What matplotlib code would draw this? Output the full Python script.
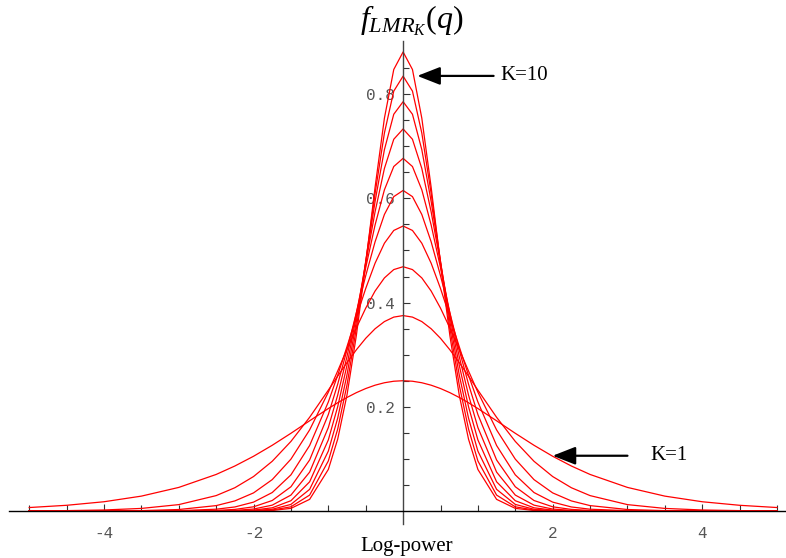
import numpy as np
import matplotlib
matplotlib.use('Agg')
from matplotlib import pyplot as plt
from matplotlib.ticker import FixedLocator

plt.rcParams['mathtext.fontset'] = 'custom'
plt.rcParams['mathtext.rm'] = 'Liberation Serif'
plt.rcParams['mathtext.it'] = 'Liberation Serif:italic'

# log-power values, x >= 0 half (curves are symmetric about 0)
xs_half = [0, 0.125, 0.25, 0.375, 0.5, 0.625, 0.75, 0.875, 1, 1.25, 1.5, 1.75,
           2, 2.25, 2.5, 3, 3.5, 4, 4.5, 5]

k1 = [.2500, .2490, .2461, .2414, .2350, .2271, .2179, .2077, .1966, .1731, .1491, .1261,
      .1050, .0863, .0701, .0452, .0285, .0177, .0109, .0066]
k2 = [.3750, .3721, .3635, .3497, .3314, .3094, .2849, .2587, .2319, .1798, .1335, .0954,
      .0661, .0446, .0295, .0122, .0049, .0019, .0007, .0003]
k3 = [.4688, .4633, .4473, .4221, .3893, .3513, .3104, .2686, .2280, .1556, .0995, .0602,
      .0347, .0193, .0103, .0028, .0007, .0002, 0, 0]
k4 = [.5469, .5384, .5139, .4755, .4270, .3724, .3156, .2603, .2092, .1257, .0693, .0354,
      .0170, .0077, .0034, .0006, .0001, 0, 0, 0]
k5 = [.6152, .6033, .5691, .5166, .4515, .3805, .3094, .2432, .1851, .0979, .0465, .0201,
      .0080, .0030, .0011, .0001, 0, 0, 0, 0]
k6 = [.6768, .6611, .6164, .5488, .4669, .3802, .2967, .2223, .1601, .0746, .0305, .0112,
      .0037, .0011, .0003, 0, 0, 0, 0, 0]
k7 = [.7332, .7134, .6574, .5741, .4755, .3742, .2801, .2000, .1364, .0560, .0197, .0061,
      .0017, .0004, .0001, 0, 0, 0, 0, 0]
k8 = [.7855, .7614, .6935, .5939, .4789, .3641, .2616, .1780, .1149, .0415, .0126, .0033,
      .0008, .0001, 0, 0, 0, 0, 0, 0]
k9 = [.8346, .8058, .7254, .6093, .4783, .3514, .2422, .1571, .0960, .0305, .0080, .0018,
      .0003, 0, 0, 0, 0, 0, 0, 0]
k10 = [.8810, .8473, .7539, .6211, .4746, .3370, .2229, .1377, .0797, .0223, .0050, .0009,
       .0001, 0, 0, 0, 0, 0, 0, 0]

curves = [k1, k2, k3, k4, k5, k6, k7, k8, k9, k10]

x_major = [-4, -2, 2, 4]
y_major = [0.2, 0.4, 0.6, 0.8]

fig = plt.figure(figsize=(7.86, 5.58), dpi=100)
ax = fig.add_axes([9/786, 34/558, 777/786, 483/558])

xh = np.array(xs_half)
x_full = np.concatenate([-xh[::-1], xh[1:]])
for c in curves:
    c = np.array(c)
    y_full = np.concatenate([c[::-1], c[1:]])
    ax.plot(x_full, y_full, color='#ff0000', lw=0.9)

ax.set_xlim(-5.27, 5.12)
ax.set_ylim(-0.025, 0.902)

for s in ['top', 'right']:
    ax.spines[s].set_visible(False)
ax.spines['left'].set_position(('data', 0))
ax.spines['bottom'].set_position(('data', 0))
ax.spines['left'].set_color('#444444')
ax.spines['bottom'].set_color('black')
ax.spines['left'].set_linewidth(1.0)
ax.spines['bottom'].set_linewidth(1.0)

ax.xaxis.set_major_locator(FixedLocator(x_major))
ax.xaxis.set_minor_locator(FixedLocator([v / 2 for v in range(-10, 11) if v != 0]))
ax.yaxis.set_major_locator(FixedLocator(y_major))
ax.yaxis.set_minor_locator(FixedLocator([v * 0.05 for v in range(1, 18)]))
ax.set_xticklabels([str(v) for v in x_major])
ax.set_yticklabels(['%.1f' % v for v in y_major])

ax.tick_params(axis='x', which='both', direction='in', color='#333333', width=0.8,
               labelsize=11.5, labelcolor='#555555', pad=11)
ax.tick_params(axis='x', which='major', length=5)
ax.tick_params(axis='x', which='minor', length=4)
ax.tick_params(axis='y', which='both', direction='in', color='#333333', width=0.8,
               labelsize=11.5, labelcolor='#555555', pad=6)
ax.tick_params(axis='y', which='major', length=5)
ax.tick_params(axis='y', which='minor', length=4)
for lab in ax.get_xticklabels() + ax.get_yticklabels():
    lab.set_family('Liberation Mono')

fig.text(412/786, 1 - 21/558, r'$f_{LMR_{K}}(q)$', ha='center', va='center', fontsize=23)
fig.text(407/786, 1 - 546/558, 'Log-power', ha='center', va='center', fontsize=15,
         family='Liberation Serif')

arrow = dict(arrowstyle='-|>,head_length=1.4,head_width=0.55', color='black', lw=1.6,
             mutation_scale=10, shrinkA=0, shrinkB=0)
ax.annotate('', xy=(0.19, 0.835), xytext=(1.21, 0.835), arrowprops=arrow)
ax.text(1.30, 0.835, 'K=10', ha='left', va='center', fontsize=15, family='Liberation Serif')
ax.annotate('', xy=(2.00, 0.106), xytext=(3.0, 0.106), arrowprops=arrow)
ax.text(3.31, 0.106, 'K=1', ha='left', va='center', fontsize=15, family='Liberation Serif')

fig.savefig('out.png', dpi=100)
